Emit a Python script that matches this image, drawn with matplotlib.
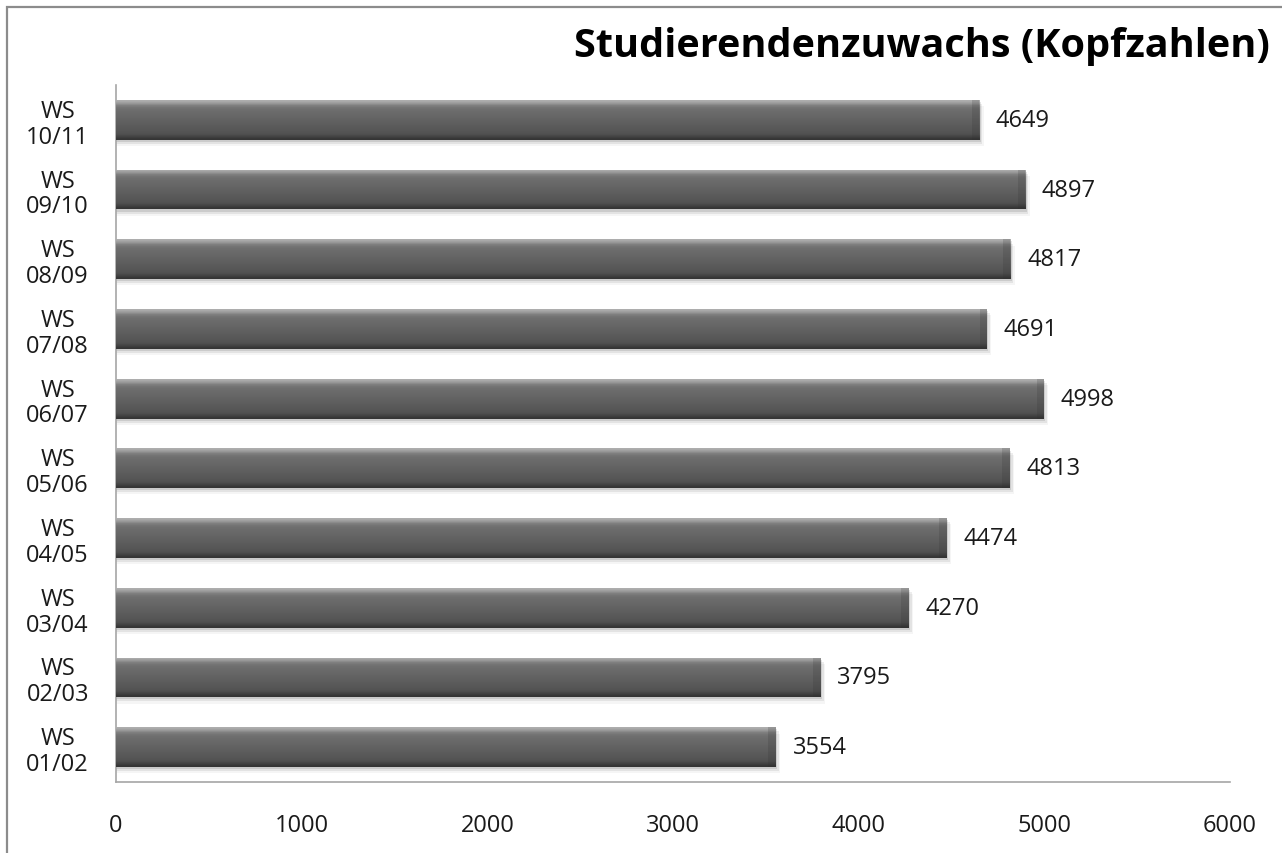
import matplotlib.pyplot as plt
import matplotlib.patches as mpatches
import numpy as np

plt.rcParams['font.family'] = ['Open Sans', 'DejaVu Sans']

semester = ['WS\n01/02', 'WS\n02/03', 'WS\n03/04', 'WS\n04/05', 'WS\n05/06',
            'WS\n06/07', 'WS\n07/08', 'WS\n08/09', 'WS\n09/10', 'WS\n10/11']
studierende = [3554, 3795, 4270, 4474, 4813, 4998, 4691, 4817, 4897, 4649]

fig = plt.figure(figsize=(12.82, 8.54), dpi=100)
ax = fig.add_axes([116/1282, 1-783/854, (1230-116)/1282, (783-86)/854])

y = np.arange(len(semester))
h = 0.57

# vertical shading for the "3D" bar look
grad = np.array([0.68, 0.60, 0.50, 0.45, 0.43, 0.42, 0.41, 0.40, 0.39, 0.38,
                 0.37, 0.36, 0.35, 0.34, 0.33, 0.31, 0.26, 0.21])
img = np.dstack([grad, grad, grad])[::-1].transpose(1, 0, 2)

for yi, v in zip(y, studierende):
    # soft shadow below bar
    for k, a in enumerate([0.10, 0.07, 0.04]):
        ax.add_patch(mpatches.Rectangle((0, yi - h/2 - 0.03*(k+1)), v + 8*(k+1), h,
                                        color='#000000', alpha=a, lw=0, zorder=1))
    bar = ax.barh(yi, v, height=h, color='#5a5a5a', zorder=2)[0]
    im = ax.imshow(img, extent=(0, v, yi - h/2, yi + h/2), aspect='auto',
                   interpolation='bilinear', zorder=3)
    im.set_clip_path(bar)
    # bevel at the right end
    ax.add_patch(mpatches.Rectangle((v - 40, yi - h/2), 40, h, color='#2e2e2e',
                                    alpha=0.18, lw=0, zorder=4))
    ax.text(v + 90, yi, str(v), va='center', ha='left', fontsize=17, color='#1a1a1a')

ax.set_xlim(0, 6000)
ax.set_ylim(-0.5, 9.5)
ax.set_xticks(range(0, 6001, 1000))
ax.set_yticks(y)
ax.set_yticklabels(semester, ha='center', linespacing=1.1)
ax.tick_params(axis='both', length=0, labelsize=17, colors='#1a1a1a')
ax.tick_params(axis='y', pad=42)
ax.tick_params(axis='x', pad=22)
for s in ['top', 'right']:
    ax.spines[s].set_visible(False)
for s in ['left', 'bottom']:
    ax.spines[s].set_color('#a6a6a6')
    ax.spines[s].set_linewidth(1.2)

fig.text(1270/1282, 1-47/854, 'Studierendenzuwachs (Kopfzahlen)', ha='right', va='center',
         fontsize=28.5, fontweight='bold', color='black')

fig.patches.append(mpatches.Rectangle((7/1282, -0.1), 1.5, 1.1 - 8/854, transform=fig.transFigure,
                                      fill=False, ec='#8c8c8c', lw=1.6))

fig.savefig('out.png', dpi=100)
